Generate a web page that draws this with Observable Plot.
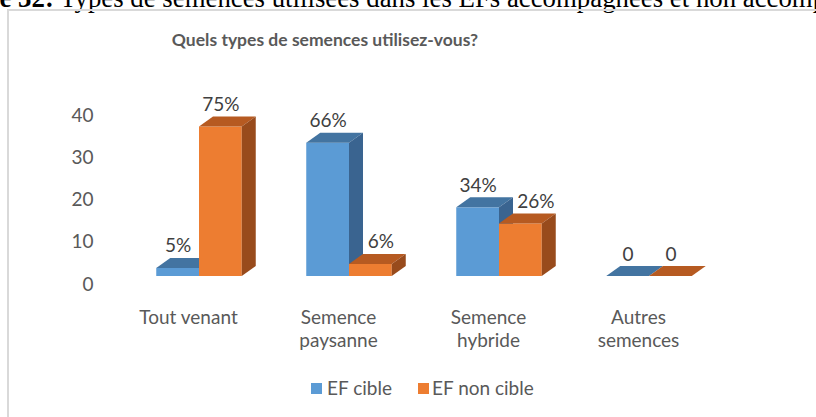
<!DOCTYPE html>
<html><head><meta charset="utf-8">
<script src="https://cdn.jsdelivr.net/npm/d3@7"></script>
<script src="https://cdn.jsdelivr.net/npm/@observablehq/plot@0.6"></script>
<style>
body{margin:0;background:#fff;}
#wrap{position:relative;width:816px;height:417px;overflow:hidden;background:#fff;font-family:Lato,sans-serif;}
#frame{position:absolute;left:7px;top:9px;width:900px;height:500px;border-left:2px solid #d9d9d9;border-top:2px solid #d9d9d9;}
#caption{position:absolute;left:0;top:0;}
#title{position:absolute;left:0;width:650px;top:30px;line-height:20px;font-size:17.5px;font-weight:bold;color:#595959;text-align:center;}
.layer{position:absolute;left:0;top:0;}
.sw{position:absolute;width:11px;height:11px;}
.lt{position:absolute;font-size:19px;line-height:19px;color:#595959;white-space:nowrap;}
</style></head><body>
<div id="wrap">
  <svg id="caption" width="816" height="20"></svg>
  <div id="frame"></div>
  <div id="title">Quels types de semences utilisez-vous?</div>
  <div id="axes" class="layer"></div>
  <div id="chart" class="layer"></div>
  <div id="legend"></div>
</div>
<script>
const captionBold = "Figure 32:";
const captionText = " Types de semences utilisées dans les EFs accompagnées et non accompagnées";
const categories = ["Tout venant", "Semence\npaysanne", "Semence\nhybride", "Autres\nsemences"];
const series = ["EF cible", "EF non cible"];
const efCible = [2, 33, 17, 0];
const efNonCible = [37, 3, 13, 0];
const labelsCible = ["5%", "66%", "34%", "0"];
const labelsNonCible = ["75%", "6%", "26%", "0"];
const yTicks = [0, 10, 20, 30, 40];

const palette = {
  "EF cible": {front: "#5b9bd5", top: "#4374a1", side: "#3a6490"},
  "EF non cible": {front: "#ed7d31", top: "#b65a21", side: "#984b1c"}
};

const rows = categories.flatMap((c, i) => [
  {category: c, series: series[0], value: efCible[i], label: labelsCible[i]},
  {category: c, series: series[1], value: efNonCible[i], label: labelsNonCible[i]}
]);

// caption (cropped at the top / left like the reference)
{
  const svg = d3.select("#caption");
  const fs = 26.8;
  const probe = svg.append("text").attr("font-family", "Liberation Serif").attr("font-size", fs).attr("font-weight", "bold").text("Figur");
  const w = probe.node().getComputedTextLength();
  probe.remove();
  const t = svg.append("text").attr("x", -w).attr("y", 7).attr("font-family", "Liberation Serif").attr("font-size", fs).attr("fill", "#000");
  t.append("tspan").attr("font-weight", "bold").text(captionBold);
  t.append("tspan").text(captionText);
}

const BAR = 0.285, DX = 14, DY = -10;

function bars3d(index, scales) {
  const {x, y} = scales;
  const bw = x.bandwidth();
  const W = bw * BAR;
  const g = d3.create("svg:g");
  for (const d of rows) {
    const c = x(d.category) + bw / 2;
    const x0 = d.series === series[0] ? c - W : c;
    const x1 = x0 + W;
    const yt = y(d.value), yb = y(0);
    const col = palette[d.series];
    g.append("rect").attr("x", x0).attr("y", yt).attr("width", W).attr("height", yb - yt).attr("fill", col.front);
    g.append("path").attr("d", `M${x0},${yt}L${x1},${yt}L${x1 + DX},${yt + DY}L${x0 + DX},${yt + DY}Z`).attr("fill", col.top);
    g.append("path").attr("d", `M${x1},${yt}L${x1 + DX},${yt + DY}L${x1 + DX},${yb + DY}L${x1},${yb}Z`).attr("fill", col.side);
  }
  return g.node();
}

const axes = Plot.plot({
  width: 816, height: 417,
  marginLeft: 96, marginRight: 0, marginTop: 0, marginBottom: 0,
  style: {background: "transparent", fontFamily: "Lato", color: "#595959"},
  y: {domain: [0, 40], range: [284, 115]},
  marks: [Plot.axisY(yTicks, {tickSize: 0, tickPadding: 3, fontSize: 19})]
});
document.getElementById("axes").append(axes);

const bandW = 150.67;
// Excel nudged two data labels sideways to keep them clear of the neighbouring bar
const nudge = (d) => (d.series === series[1] && (d.label === "26%")) ? 15 : (d.series === series[1] && d.label === "6%") ? 10 : 0;
const labelStyle = {x: "category", y: "value", text: "label", dy: -16, lineAnchor: "bottom", fontSize: 19, fill: "#404040"};
const chart = Plot.plot({
  width: 816, height: 417,
  marginLeft: 0, marginRight: 0, marginTop: 0, marginBottom: 141,
  style: {background: "transparent", fontFamily: "Lato"},
  x: {type: "band", domain: categories, range: [198 - bandW / 2, 198 + 3.5 * bandW], padding: 0, axis: null},
  y: {domain: [0, 40], range: [276, 114.4], axis: null},
  marks: [
    bars3d,
    Plot.text(rows.filter(d => d.series === series[0]), {...labelStyle, dx: -bandW * BAR / 2}),
    Plot.text(rows.filter(d => d.series === series[1] && nudge(d) === 0), {...labelStyle, dx: bandW * BAR / 2}),
    Plot.text(rows.filter(d => d.label === "6%" && d.series === series[1]), {...labelStyle, dx: bandW * BAR / 2 + 10}),
    Plot.text(rows.filter(d => d.label === "26%" && d.series === series[1]), {...labelStyle, dx: bandW * BAR / 2 + 15}),
    Plot.text(categories, {x: d => d, frameAnchor: "bottom", dx: -11, dy: 30, lineAnchor: "top", lineHeight: 1.26, fontSize: 19, fill: "#595959"})
  ]
});
document.getElementById("chart").append(chart);

// legend
{
  const lg = d3.select("#legend");
  const pos = [{sq: 311, tx: 327}, {sq: 418, tx: 432}];
  series.forEach((s, i) => {
    lg.append("div").attr("class", "sw").style("left", pos[i].sq + "px").style("top", "383px").style("background", palette[s].front);
    lg.append("div").attr("class", "lt").style("left", pos[i].tx + "px").style("top", "378px").text(s);
  });
}
</script>
</body></html>
